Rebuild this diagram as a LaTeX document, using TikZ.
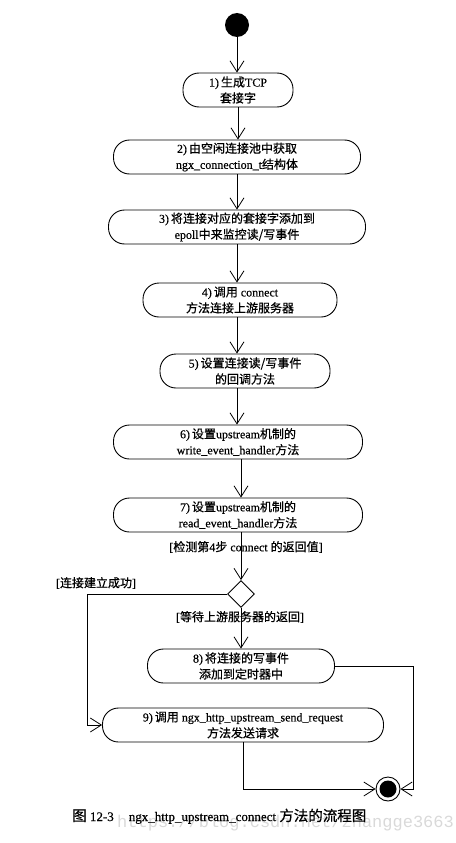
\documentclass[tikz,border=0pt]{standalone}
\usepackage{fontspec}
\setmainfont[FakeBold=0.4]{Liberation Serif}
\newfontfamily\zhfont[FakeBold=0.7]{Noto Sans CJK SC}
\newfontfamily\wmfont{Liberation Mono}
\newcommand\zh[1]{{\zhfont #1}}
\usetikzlibrary{arrows.meta,shapes.geometric}
\begin{document}
\begin{tikzpicture}[x=1pt,y=-1pt,
 act/.style={draw,line width=0.9pt,rounded corners=16pt,minimum height=34pt,align=center,inner sep=0pt,font=\fontsize{12}{16}\selectfont},
 arr/.style={line width=0.8pt,-{Straight Barb[length=11pt,width=14pt,line width=0.8pt]}},
 ln/.style={line width=0.8pt},
 lbl/.style={font=\fontsize{12}{14}\selectfont,inner sep=1pt}]
\useasboundingbox (0,0) rectangle (455,843);
\node[circle,fill,inner sep=0pt,minimum size=24pt] (s) at (237,25) {};
\node[act,minimum width=110pt] (n1) at (238,90) {1)\,\zh{生成}TCP\\\zh{套接字}};
\node[act,minimum width=247pt] (n2) at (237,157) {2)\,\zh{由空闲连接池中获取}\\ngx\_connection\_t\zh{结构体}};
\node[act,minimum width=257pt] (n3) at (237,227) {3)\,\zh{将连接对应的套接字添加到}\\epoll\zh{中来监控读/写事件}};
\node[act,minimum width=194pt] (n4) at (240,300) {4)\,\zh{调用} connect\\\zh{方法连接上游服务器}};
\node[act,minimum width=170pt] (n5) at (245,371) {5)\,\zh{设置连接读/写事件}\\\zh{的回调方法}};
\node[act,minimum width=249pt] (n6) at (238,442) {6)\,\zh{设置}upstream\zh{机制的}\\write\_event\_handler\zh{方法}};
\node[act,minimum width=249pt] (n7) at (238,515) {7)\,\zh{设置}upstream\zh{机制的}\\read\_event\_handler\zh{方法}};
\node[diamond,draw,line width=0.9pt,minimum width=27pt,minimum height=27pt,inner sep=0pt] (d) at (241,594) {};
\node[act,minimum width=187pt] (n8) at (241,666) {8)\,\zh{将连接的写事件}\\\zh{添加到定时器中}};
\node[act,minimum width=281pt] (n9) at (243,725) {9)\,\zh{调用} ngx\_http\_upstream\_send\_request\\\zh{方法发送请求}};
\node[circle,draw,line width=0.9pt,inner sep=0pt,minimum size=24pt] (e) at (388,789) {};
\fill (e.center) circle (8.5);
\coordinate (L) at (87,725);
\coordinate (R) at (413,789);
\draw[arr] (s.south) -- (s.south |- n1.north);
\draw[arr] (n1.south) -- (n1.south |- n2.north);
\draw[arr] (n2.south) -- (n2.south |- n3.north);
\draw[arr] (n3.south) -- (n3.south |- n4.north);
\draw[arr] (n3.south |- n4.south) -- (n3.south |- n5.north);
\draw[arr] (n3.south |- n5.south) -- (n3.south |- n6.north);
\draw[arr] (d.north |- n6.south) -- (d.north |- n7.north);
\draw[arr] (d.north |- n7.south) -- (d.north);
\draw[arr] (d.west) -| (L) -- (n9.west);
\draw[arr] (d.south) -- (d.south |- n8.north);
\draw[arr] (n8.east) -| (R) -- (e.east);
\draw[arr] (n9.south) |- (e.west);
\node[lbl] (chk) at (246,547) {[\zh{检测第}4\zh{步} connect \zh{的返回值}]};
\node[lbl] (ok) at (96,583) {[\zh{连接建立成功}]};
\node[lbl] (wait) at (240,617) {[\zh{等待上游服务器的返回}]};
\node[anchor=base west,inner sep=0pt,text=gray!30,font=\wmfont\fontsize{17}{19}\selectfont] (wm) at (117,827) {https://blog.csdn.net/zhangge3663};
\node[anchor=base west,inner sep=0pt,font=\fontsize{13}{15}\selectfont] (cap) at (72,821) {{\zhfont\fontsize{14.5}{16}\selectfont 图} 12-3\hspace{15pt}ngx\_http\_upstream\_connect {\zhfont\fontsize{14.5}{16}\selectfont 方法的流程图}};
\end{tikzpicture}
\end{document}
